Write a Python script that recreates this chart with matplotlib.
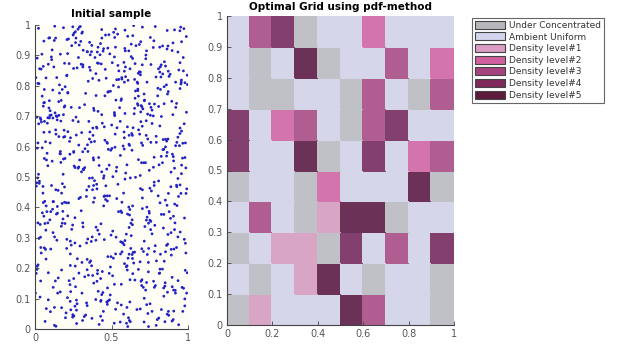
import matplotlib.pyplot as plt
import numpy as np
from matplotlib.colors import ListedColormap, BoundaryNorm
from matplotlib.patches import Patch

# --- initial sample: point coordinates in thousandths of the unit square ---
sample_x = [
    512, 87, 934, 271, 648, 19, 773, 405, 166, 859, 322, 701, 48, 590, 237, 986, 413, 654, 129, 805,
    367, 741, 58, 912, 476, 203, 689, 835, 14, 558, 290, 627, 971, 145, 382, 819, 66, 503, 748, 231,
    954, 108, 436, 677, 302, 863, 527, 79, 611, 195, 888, 341, 724, 457, 36, 979, 268, 593, 152, 816,
    429, 705, 261, 947, 84, 370, 632, 518, 197, 761, 3, 846, 314, 583, 908, 126, 692, 449, 237, 775,
    61, 530, 883, 174, 666, 412, 995, 289, 746, 135, 568, 820, 23, 397, 654, 927, 178, 481, 713, 356,
    842, 219, 597, 38, 461, 780, 123, 906, 345, 672, 501, 254, 817, 96, 639, 383, 958, 207, 725, 470,
    155, 688, 327, 869, 542, 11, 794, 436, 265, 991, 618, 72, 379, 853, 184, 526, 730, 297, 948, 603,
    341, 912, 78, 565, 229, 704, 473, 136, 867, 392, 54, 621, 980, 247, 756, 418, 169, 834, 585, 9,
    697, 268, 823, 441, 112, 958, 374, 641, 29, 507, 786, 193, 925, 356, 608, 87, 479, 742, 215, 869,
    534, 103, 765, 302, 889, 447, 61, 676, 213, 934, 559, 318, 792, 144, 987, 425, 653, 26, 381, 718,
    248, 871, 492, 17, 639, 786, 325, 957, 183, 564, 702, 91, 436, 815, 270, 613, 948, 357, 74, 529,
    903, 166, 587, 734, 42, 398, 851, 219, 676, 495, 128, 961, 313, 747, 582, 35, 864, 209, 451, 696,
    377, 620, 101, 844, 263, 509, 989, 156, 723, 408, 57, 635, 286, 912, 478, 193, 758, 337, 601, 13,
    825, 444, 672, 299, 938, 81, 557, 714, 362, 115, 896, 240, 626, 473, 19, 783, 531, 174, 969, 305,
    651, 23, 389, 817, 534, 196, 736, 469, 872, 62, 315, 980, 127, 561, 694, 408, 249, 853, 97, 742,
    186, 757, 919, 341, 613, 497, 28, 682, 226, 849, 574, 383, 107, 935, 463, 702, 291, 65, 618, 876,
    429, 592, 137, 964, 246, 803, 371, 519, 688, 94, 757, 432, 214, 866, 30, 645, 177, 907, 352, 526,
    779, 58, 701, 410, 872, 151, 966, 284, 637, 483, 917, 12, 548, 336, 799, 228, 584, 440, 143, 691,
    315, 842, 208, 567, 95, 733, 419, 894, 163, 602, 275, 948, 487, 71, 826, 361, 709, 534, 992, 246,
    615, 399, 774, 133, 952, 520, 287, 41, 668, 811, 182, 453, 729, 601, 346, 897, 116, 579, 264, 838,
    47, 687, 306, 913, 572, 223, 841, 405, 738, 160, 519, 986, 375, 629, 84, 457, 793, 212, 940, 368,
    874, 252, 546, 106, 699, 428, 15, 765, 331, 927, 598, 187, 812, 465, 676, 54, 357, 901, 240, 623,
    493, 957, 119, 638, 389, 809, 553, 281, 73, 743, 448, 864, 196, 588, 325, 970, 617, 140, 792, 407,
    231, 536, 871, 34, 451, 689, 925, 165, 402, 777, 292, 606, 948, 64, 519, 845, 378, 711, 8, 562,
    758, 118, 416, 973, 261, 597, 142, 836, 673, 349, 886, 505, 232, 781, 429, 99, 657, 313, 928, 474,
    304, 902, 641, 195, 820, 376, 714, 58, 540, 983, 207, 453, 729, 169, 606, 877, 341, 24, 765, 512,
    934, 275, 84, 568, 741, 437, 190, 956, 623, 312, 808, 131, 476, 689, 38, 853, 564, 255, 696, 147,
    582, 713, 352, 849, 109, 976, 485, 234, 657, 896, 72, 403, 751, 527, 283, 919, 166, 635, 386, 860,
    127, 469, 995, 261, 604, 781, 45, 338, 833, 576, 214, 682, 939, 389, 118, 524, 747, 906, 296, 54,
    670, 398, 223, 754, 487, 33, 898, 651, 172, 415, 966, 307, 557, 844, 702, 256, 90, 629, 485, 816,
    412, 861, 567, 94, 732, 286, 615, 979, 359, 146, 521, 808, 61, 693, 433, 272, 954, 178, 737, 399,
    87, 638, 310, 889, 199, 548, 773, 420, 925, 265, 634, 6, 489, 852, 137, 716, 364, 591, 833, 230,
    751, 193, 944, 476, 660, 377, 121, 807, 253, 990, 588, 331, 722, 47, 409, 863, 615, 186, 539, 915,
    348, 579, 26, 715, 842, 103, 461, 684, 918, 231, 791, 542, 156, 369, 977, 620, 75, 287, 802, 456,
    983, 215, 608, 337, 52, 869, 727, 493, 171, 645, 384, 905, 19, 569, 825, 262, 699, 431, 112, 754,
    523, 826, 148, 651, 958, 294, 40, 588, 372, 779, 117, 864, 472, 233, 672, 949, 514, 356, 69, 621,
    191, 445, 779, 890, 307, 614, 839, 160, 934, 52, 698, 419, 253, 727, 588, 97, 826, 473, 996, 282,
    702, 37, 521, 247, 675, 436, 982, 311, 584, 853, 206, 765, 637, 14, 343, 891, 179, 546, 708, 135,
    459, 904, 277, 605, 138, 752, 383, 69, 815, 497, 947, 271, 584, 186, 731, 440, 629, 860, 312, 20,
    866, 324, 691, 99, 560, 209, 920, 728, 448, 174, 343, 637, 896, 508, 62, 787, 253, 405, 975, 581,
]
sample_y = [
    233, 871, 495, 62, 708, 349, 926, 157, 584, 803, 41, 667, 382, 915, 276, 530, 124, 759, 996, 438,
    615, 188, 947, 327, 779, 53, 462, 839, 206, 571, 993, 348, 134, 688, 417, 862, 25, 594, 741, 289,
    806, 472, 113, 655, 389, 921, 247, 578, 37, 734, 468, 195, 889, 621, 302, 76, 957, 513, 168, 845,
    91, 724, 366, 981, 537, 208, 643, 19, 797, 454, 118, 879, 336, 592, 263, 949, 682, 405, 729, 157,
    561, 302, 838, 447, 64, 716, 185, 934, 387, 655, 822, 246, 509, 97, 873, 614, 348, 781, 23, 496,
    377, 954, 205, 689, 426, 137, 862, 553, 296, 808, 671, 43, 415, 958, 182, 726, 539, 265, 901, 614,
    748, 66, 593, 311, 867, 481, 224, 705, 942, 118, 375, 826, 637, 254, 509, 987, 80, 433, 661, 194,
    912, 529, 386, 757, 146, 604, 81, 458, 279, 893, 733, 162, 564, 47, 327, 818, 684, 931, 215, 470,
    143, 697, 829, 28, 552, 945, 303, 662, 486, 175, 995, 417, 742, 861, 233, 96, 591, 348, 776, 625,
    429, 263, 676, 871, 317, 58, 788, 196, 906, 631, 247, 524, 12, 699, 446, 902, 161, 807, 563, 337,
    686, 848, 112, 497, 965, 274, 531, 819, 362, 79, 458, 727, 985, 184, 638, 401, 876, 219, 67, 753,
    31, 576, 923, 245, 681, 840, 152, 415, 766, 588, 303, 137, 869, 522, 277, 694, 49, 952, 436, 612,
    824, 393, 57, 741, 207, 501, 962, 633, 128, 875, 744, 359, 605, 984, 92, 467, 729, 283, 540, 196,
    568, 120, 784, 946, 436, 677, 23, 289, 851, 394, 170, 932, 265, 611, 808, 341, 519, 70, 893, 646,
    253, 989, 431, 197, 820, 561, 707, 89, 446, 683, 526, 810, 71, 388, 735, 182, 967, 624, 359, 8,
    705, 354, 603, 77, 915, 238, 479, 846, 617, 24, 283, 556, 895, 159, 471, 993, 728, 347, 604, 831,
    166, 830, 9, 562, 342, 792, 933, 147, 505, 751, 614, 94, 372, 773, 856, 217, 413, 59, 683, 927,
    472, 647, 869, 325, 58, 456, 611, 893, 232, 968, 127, 697, 821, 436, 31, 575, 848, 189, 292, 714,
    917, 108, 295, 827, 648, 368, 15, 749, 577, 208, 859, 474, 96, 325, 699, 902, 255, 532, 461, 39,
    334, 768, 532, 158, 993, 706, 429, 250, 812, 540, 387, 665, 915, 71, 584, 139, 786, 447, 978, 623,
    596, 221, 973, 411, 284, 873, 135, 661, 51, 803, 712, 250, 497, 937, 349, 767, 614, 103, 852, 288,
    45, 857, 386, 704, 162, 939, 595, 313, 775, 468, 19, 631, 183, 825, 557, 416, 943, 705, 328, 497,
    782, 511, 137, 890, 617, 36, 728, 986, 405, 265, 922, 581, 347, 709, 172, 849, 28, 378, 634, 911,
    209, 662, 781, 344, 504, 845, 268, 122, 664, 948, 556, 8, 791, 420, 895, 223, 661, 547, 183, 752,
    870, 419, 564, 988, 75, 312, 827, 590, 736, 177, 364, 876, 629, 255, 42, 718, 499, 862, 406, 135,
    517, 941, 252, 633, 788, 458, 101, 371, 970, 612, 833, 294, 153, 548, 963, 386, 229, 675, 58, 801,
    303, 83, 695, 417, 219, 957, 654, 812, 24, 349, 487, 711, 924, 836, 268, 599, 147, 973, 547, 381,
    648, 773, 469, 141, 886, 295, 539, 63, 783, 916, 230, 476, 358, 65, 682, 812, 904, 245, 719, 569,
    12, 526, 835, 283, 665, 740, 904, 457, 197, 602, 778, 936, 14, 488, 317, 641, 381, 128, 995, 864,
    741, 292, 159, 959, 438, 105, 575, 726, 338, 874, 58, 219, 683, 797, 431, 536, 957, 307, 183, 668,
    927, 618, 383, 694, 812, 533, 246, 99, 648, 403, 959, 732, 267, 157, 872, 18, 446, 788, 625, 335,
    185, 405, 977, 516, 37, 849, 701, 312, 473, 139, 588, 827, 905, 424, 641, 753, 224, 862, 547, 91,
    463, 874, 603, 238, 932, 176, 419, 856, 581, 713, 291, 46, 547, 766, 193, 407, 637, 991, 86, 349,
    815, 49, 298, 751, 591, 386, 967, 641, 118, 247, 829, 476, 703, 912, 365, 89, 556, 184, 767, 438,
    282, 649, 818, 86, 469, 931, 637, 204, 752, 998, 151, 371, 612, 254, 869, 531, 731, 346, 918, 703,
    598, 377, 118, 821, 651, 273, 855, 493, 35, 565, 694, 982, 438, 123, 789, 319, 976, 625, 262, 856,
    730, 914, 483, 262, 118, 608, 332, 776, 911, 447, 264, 538, 166, 685, 983, 702, 64, 421, 804, 529,
    396, 158, 702, 994, 841, 517, 193, 28, 629, 865, 415, 720, 343, 891, 606, 243, 478, 796, 137, 957,
    854, 567, 231, 378, 701, 83, 472, 616, 927, 309, 643, 95, 812, 559, 401, 677, 896, 275, 583, 211,
    121, 738, 945, 612, 287, 835, 729, 358, 496, 194, 912, 637, 26, 322, 745, 143, 584, 461, 675, 877,
]

# --- optimal grid: 10x10 cells, top row (y 0.9-1.0) first ---
# 0 under concentrated, 1 ambient uniform, 2..6 density level #1..#5
level_names = ['Under Concentrated', 'Ambient Uniform', 'Density level#1', 'Density level#2',
               'Density level#3', 'Density level#4', 'Density level#5']
grid_levels = [
    [1, 4, 5, 0, 1, 1, 3, 1, 1, 1],
    [1, 0, 1, 6, 0, 1, 1, 4, 1, 3],
    [1, 0, 0, 1, 1, 0, 4, 1, 0, 4],
    [5, 1, 3, 4, 1, 0, 4, 5, 1, 1],
    [5, 1, 1, 6, 0, 1, 5, 1, 3, 4],
    [0, 1, 1, 0, 3, 1, 1, 1, 6, 0],
    [1, 4, 1, 0, 2, 6, 6, 0, 1, 1],
    [0, 1, 2, 2, 0, 5, 1, 4, 1, 5],
    [1, 0, 1, 2, 6, 1, 0, 1, 1, 0],
    [0, 2, 1, 1, 1, 6, 4, 1, 1, 0],
]

cell_colors = ['#c0c0c7', '#d5d6e9', '#d8a5c5', '#d375ac', '#b05d91', '#83406e', '#6b3157']
legend_colors = ['#b6b6bc', '#d3d5ef', '#db9dc3', '#d1609e', '#a6437f', '#7f285a', '#5c1b3c']

tick_col = '#555555'
spine_col = '#444444'

fig = plt.figure(figsize=(6.19, 3.49), dpi=100)

# --- left: initial sample ---
ax1 = fig.add_axes([35 / 619, 1 - 329 / 349, 153 / 619, 304 / 349])
n = min(len(sample_x), len(sample_y))
xs = np.array(sample_x[:n]) / 1000.0
ys = np.array(sample_y[:n]) / 1000.0
ax1.scatter(xs, ys, s=4, color='#2222c4', edgecolors='none')
ax1.set_facecolor('#fefef7')
ax1.set_xlim(0, 1)
ax1.set_ylim(0, 1)
ax1.set_xticks([0, 0.5, 1])
ax1.set_xticklabels(['0', '0.5', '1'])
ax1.set_yticks(np.arange(0, 1.01, 0.1))
ax1.set_yticklabels(['0', '0.1', '0.2', '0.3', '0.4', '0.5', '0.6', '0.7', '0.8', '0.9', '1'])
ax1.set_title('Initial sample', fontsize=7.5, fontweight='bold', pad=6)

# --- right: optimal grid ---
ax2 = fig.add_axes([227 / 619, 1 - 325 / 349, 227 / 619, 309 / 349])
levels = np.array(grid_levels)[::-1]
edges = np.linspace(0, 1, levels.shape[1] + 1)
cmap = ListedColormap(cell_colors)
norm = BoundaryNorm(np.arange(-0.5, len(cell_colors) + 0.5, 1), cmap.N)
ax2.pcolormesh(edges, edges, levels, cmap=cmap, norm=norm, edgecolors='face', linewidth=0.3)
ax2.set_xlim(0, 1)
ax2.set_ylim(0, 1)
ax2.set_xticks([0, 0.2, 0.4, 0.6, 0.8, 1])
ax2.set_xticklabels(['0', '0.2', '0.4', '0.6', '0.8', '1'])
ax2.set_yticks(np.arange(0, 1.01, 0.1))
ax2.set_yticklabels(['0', '0.1', '0.2', '0.3', '0.4', '0.5', '0.6', '0.7', '0.8', '0.9', '1'])
ax2.set_title('Optimal Grid using pdf-method', fontsize=7.5, fontweight='bold', pad=4)

for ax in (ax1, ax2):
    ax.spines['top'].set_visible(False)
    ax.spines['right'].set_visible(False)
    ax.spines['left'].set_color(spine_col)
    ax.spines['bottom'].set_color(spine_col)
    ax.spines['left'].set_linewidth(0.8)
    ax.spines['bottom'].set_linewidth(0.8)
    ax.tick_params(direction='in', length=3, width=0.6, colors=spine_col,
                   labelcolor=tick_col, labelsize=7, pad=3)

handles = [Patch(facecolor=c, edgecolor='#444444', linewidth=0.8) for c in legend_colors]
leg = fig.legend(handles, level_names, loc='upper left',
                 bbox_to_anchor=(472 / 619, 1 - 18 / 349), borderaxespad=0,
                 fontsize=6.5, handlelength=3.4, handleheight=1.0, handletextpad=0.4,
                 labelspacing=0.28, borderpad=0.3, fancybox=False, framealpha=1)
leg.get_frame().set_edgecolor('#666666')
leg.get_frame().set_linewidth(0.8)
for t in leg.get_texts():
    t.set_color('#333333')

fig.savefig('out.png', dpi=100)
